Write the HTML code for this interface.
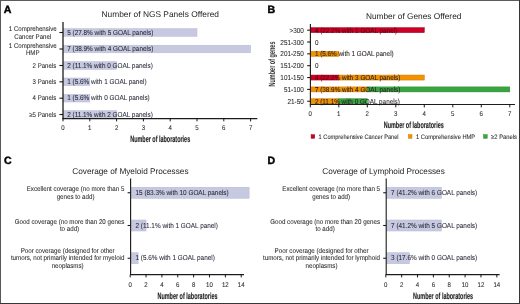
<!DOCTYPE html>
<html><head><meta charset="utf-8"><style>
html,body{margin:0;padding:0;background:#fff;}
body{width:520px;height:304px;overflow:hidden;}
svg{display:block;font-family:"Liberation Sans", sans-serif;text-rendering:geometricPrecision;}
</style></head><body>
<svg width="520" height="304" viewBox="0 0 520 304">
<defs><filter id="b" x="0" y="0" width="100%" height="100%"><feGaussianBlur stdDeviation="0.3"/></filter></defs>
<rect x="0" y="0" width="520" height="304" fill="#fff"/>
<g filter="url(#b)" >
<text x="3.7" y="12.6" font-size="10.6" font-weight="700" fill="#000" stroke="#000" stroke-width="0.45">A</text>
<text x="267.6" y="13.2" font-size="10.6" font-weight="700" fill="#000" stroke="#000" stroke-width="0.45">B</text>
<text x="3.9" y="163.75" font-size="10.6" font-weight="700" fill="#000" stroke="#000" stroke-width="0.45">C</text>
<text x="267.5" y="163.75" font-size="10.6" font-weight="700" fill="#000" stroke="#000" stroke-width="0.45">D</text>
<text x="101.5" y="17.1" font-size="8.3" textLength="117.5" lengthAdjust="spacingAndGlyphs" fill="#1e1e1e">Number of NGS Panels Offered</text>
<rect x="63.60" y="28.70" width="133.40" height="7.60" fill="#c6c9df" stroke="#b5b8d0" stroke-width="0.5"/>
<rect x="63.60" y="45.20" width="187.00" height="7.60" fill="#c6c9df" stroke="#b5b8d0" stroke-width="0.5"/>
<rect x="63.60" y="61.70" width="53.00" height="7.60" fill="#c6c9df" stroke="#b5b8d0" stroke-width="0.5"/>
<rect x="63.60" y="78.00" width="26.20" height="7.60" fill="#c6c9df" stroke="#b5b8d0" stroke-width="0.5"/>
<rect x="63.60" y="94.40" width="26.20" height="7.60" fill="#c6c9df" stroke="#b5b8d0" stroke-width="0.5"/>
<rect x="63.60" y="110.70" width="53.00" height="7.60" fill="#c6c9df" stroke="#b5b8d0" stroke-width="0.5"/>
<text transform="translate(67.2,34.5) scale(1,1.12)" font-size="6.4" fill="#2a2a3a" stroke="#2a2a3a" stroke-width="0.06">5 (27.8% with 5 GOAL panels)</text>
<text transform="translate(67.2,51.0) scale(1,1.12)" font-size="6.4" fill="#2a2a3a" stroke="#2a2a3a" stroke-width="0.06">7 (38.9% with 4 GOAL panels)</text>
<text transform="translate(67.2,67.5) scale(1,1.12)" font-size="6.4" fill="#2a2a3a" stroke="#2a2a3a" stroke-width="0.06">2 (11.1% with 0 GOAL panels)</text>
<text transform="translate(67.2,83.8) scale(1,1.12)" font-size="6.4" fill="#2a2a3a" stroke="#2a2a3a" stroke-width="0.06">1 (5.6% with 1 GOAL panel)</text>
<text transform="translate(67.2,100.2) scale(1,1.12)" font-size="6.4" fill="#2a2a3a" stroke="#2a2a3a" stroke-width="0.06">1 (5.6% with 0 GOAL panels)</text>
<text transform="translate(67.2,116.5) scale(1,1.12)" font-size="6.4" fill="#2a2a3a" stroke="#2a2a3a" stroke-width="0.06">2 (11.1% with 2 GOAL panels)</text>
<text transform="translate(32.7,31.0) scale(1,1.12)" font-size="6.1" text-anchor="middle" fill="#2b2b2b" stroke="#2b2b2b" stroke-width="0.06">1 Comprehensive</text>
<text transform="translate(32.7,38.6) scale(1,1.12)" font-size="6.1" text-anchor="middle" fill="#2b2b2b" stroke="#2b2b2b" stroke-width="0.06">Cancer Panel</text>
<line x1="59.40" y1="32.50" x2="63.00" y2="32.50" stroke="#1a1a1a" stroke-width="1.1"/>
<text transform="translate(32.7,47.5) scale(1,1.12)" font-size="6.1" text-anchor="middle" fill="#2b2b2b" stroke="#2b2b2b" stroke-width="0.06">1 Comprehensive</text>
<text transform="translate(32.7,55.1) scale(1,1.12)" font-size="6.1" text-anchor="middle" fill="#2b2b2b" stroke="#2b2b2b" stroke-width="0.06">HMP</text>
<line x1="59.40" y1="49.00" x2="63.00" y2="49.00" stroke="#1a1a1a" stroke-width="1.1"/>
<text transform="translate(56.3,67.7) scale(1,1.12)" font-size="6.1" text-anchor="end" fill="#2b2b2b" stroke="#2b2b2b" stroke-width="0.06">2 Panels</text>
<line x1="59.40" y1="65.50" x2="63.00" y2="65.50" stroke="#1a1a1a" stroke-width="1.1"/>
<text transform="translate(56.3,84.0) scale(1,1.12)" font-size="6.1" text-anchor="end" fill="#2b2b2b" stroke="#2b2b2b" stroke-width="0.06">3 Panels</text>
<line x1="59.40" y1="81.80" x2="63.00" y2="81.80" stroke="#1a1a1a" stroke-width="1.1"/>
<text transform="translate(56.3,100.4) scale(1,1.12)" font-size="6.1" text-anchor="end" fill="#2b2b2b" stroke="#2b2b2b" stroke-width="0.06">4 Panels</text>
<line x1="59.40" y1="98.20" x2="63.00" y2="98.20" stroke="#1a1a1a" stroke-width="1.1"/>
<text transform="translate(56.3,116.7) scale(1,1.12)" font-size="6.1" text-anchor="end" fill="#2b2b2b" stroke="#2b2b2b" stroke-width="0.06">≥5 Panels</text>
<line x1="59.40" y1="114.50" x2="63.00" y2="114.50" stroke="#1a1a1a" stroke-width="1.1"/>
<line x1="63.00" y1="22.00" x2="63.00" y2="119.20" stroke="#1a1a1a" stroke-width="1.3"/>
<line x1="62.40" y1="118.60" x2="257.30" y2="118.60" stroke="#1a1a1a" stroke-width="1.2"/>
<line x1="63.00" y1="118.60" x2="63.00" y2="121.40" stroke="#1a1a1a" stroke-width="1.0"/>
<text transform="translate(63.0,130.0) scale(1,1.12)" font-size="6.1" text-anchor="middle" fill="#2b2b2b" stroke="#2b2b2b" stroke-width="0.06">0</text>
<line x1="89.80" y1="118.60" x2="89.80" y2="121.40" stroke="#1a1a1a" stroke-width="1.0"/>
<text transform="translate(89.8,130.0) scale(1,1.12)" font-size="6.1" text-anchor="middle" fill="#2b2b2b" stroke="#2b2b2b" stroke-width="0.06">1</text>
<line x1="116.60" y1="118.60" x2="116.60" y2="121.40" stroke="#1a1a1a" stroke-width="1.0"/>
<text transform="translate(116.6,130.0) scale(1,1.12)" font-size="6.1" text-anchor="middle" fill="#2b2b2b" stroke="#2b2b2b" stroke-width="0.06">2</text>
<line x1="143.40" y1="118.60" x2="143.40" y2="121.40" stroke="#1a1a1a" stroke-width="1.0"/>
<text transform="translate(143.4,130.0) scale(1,1.12)" font-size="6.1" text-anchor="middle" fill="#2b2b2b" stroke="#2b2b2b" stroke-width="0.06">3</text>
<line x1="170.20" y1="118.60" x2="170.20" y2="121.40" stroke="#1a1a1a" stroke-width="1.0"/>
<text transform="translate(170.2,130.0) scale(1,1.12)" font-size="6.1" text-anchor="middle" fill="#2b2b2b" stroke="#2b2b2b" stroke-width="0.06">4</text>
<line x1="197.00" y1="118.60" x2="197.00" y2="121.40" stroke="#1a1a1a" stroke-width="1.0"/>
<text transform="translate(197.0,130.0) scale(1,1.12)" font-size="6.1" text-anchor="middle" fill="#2b2b2b" stroke="#2b2b2b" stroke-width="0.06">5</text>
<line x1="223.80" y1="118.60" x2="223.80" y2="121.40" stroke="#1a1a1a" stroke-width="1.0"/>
<text transform="translate(223.8,130.0) scale(1,1.12)" font-size="6.1" text-anchor="middle" fill="#2b2b2b" stroke="#2b2b2b" stroke-width="0.06">6</text>
<line x1="250.60" y1="118.60" x2="250.60" y2="121.40" stroke="#1a1a1a" stroke-width="1.0"/>
<text transform="translate(250.6,130.0) scale(1,1.12)" font-size="6.1" text-anchor="middle" fill="#2b2b2b" stroke="#2b2b2b" stroke-width="0.06">7</text>
<text x="130.2" y="141.9" font-size="9.0" font-weight="700" textLength="60" lengthAdjust="spacingAndGlyphs" fill="#1e1e1e" stroke="#1e1e1e" stroke-width="0.15">Number of laboratories</text>
<text x="365.9" y="18.8" font-size="8.3" textLength="95.5" lengthAdjust="spacingAndGlyphs" fill="#1e1e1e">Number of Genes Offered</text>
<rect x="310.90" y="27.65" width="113.40" height="5.00" fill="#cc0026" stroke="#9c001c" stroke-width="0.5"/>
<rect x="310.90" y="51.35" width="27.90" height="5.00" fill="#f39200" stroke="#cc7a00" stroke-width="0.5"/>
<rect x="310.90" y="75.05" width="27.90" height="5.00" fill="#cc0026" stroke="#9c001c" stroke-width="0.5"/>
<rect x="338.80" y="75.05" width="85.50" height="5.00" fill="#f39200" stroke="#cc7a00" stroke-width="0.5"/>
<rect x="310.90" y="86.90" width="56.40" height="5.00" fill="#f39200" stroke="#cc7a00" stroke-width="0.5"/>
<rect x="367.30" y="86.90" width="142.50" height="5.00" fill="#38a540" stroke="#25882c" stroke-width="0.5"/>
<rect x="310.90" y="98.75" width="27.90" height="5.00" fill="#f39200" stroke="#cc7a00" stroke-width="0.5"/>
<rect x="338.80" y="98.75" width="28.50" height="5.00" fill="#38a540" stroke="#25882c" stroke-width="0.5"/>
<clipPath id="cr0"><rect x="300" y="24.15" width="124.30" height="12"/></clipPath>
<clipPath id="cn0"><rect x="424.30" y="24.15" width="95.70" height="12"/></clipPath>
<g clip-path="url(#cr0)">
<text transform="translate(314.9,32.75) scale(1,1.12)" font-size="6.35" fill="#5c0012" stroke="#5c0012" stroke-width="0.06">4 (22.2% with 1 GOAL panel)</text>
</g>
<g clip-path="url(#cn0)">
<text transform="translate(314.9,32.75) scale(1,1.12)" font-size="6.35" fill="#2a2222" stroke="#2a2222" stroke-width="0.06">4 (22.2% with 1 GOAL panel)</text>
</g>
<text transform="translate(314.9,44.6) scale(1,1.12)" font-size="6.35" fill="#2a2222" stroke="#2a2222" stroke-width="0.06">0</text>
<text transform="translate(314.9,56.449999999999996) scale(1,1.12)" font-size="6.35" fill="#2a2222" stroke="#2a2222" stroke-width="0.06">1 (5.6% with 1 GOAL panel)</text>
<text transform="translate(314.9,68.29999999999998) scale(1,1.12)" font-size="6.35" fill="#2a2222" stroke="#2a2222" stroke-width="0.06">0</text>
<clipPath id="cr4"><rect x="300" y="71.55" width="38.80" height="12"/></clipPath>
<clipPath id="cn4"><rect x="338.80" y="71.55" width="181.20" height="12"/></clipPath>
<g clip-path="url(#cr4)">
<text transform="translate(314.9,80.14999999999999) scale(1,1.12)" font-size="6.35" fill="#5c0012" stroke="#5c0012" stroke-width="0.06">4 (22.2% with 3 GOAL panels)</text>
</g>
<g clip-path="url(#cn4)">
<text transform="translate(314.9,80.14999999999999) scale(1,1.12)" font-size="6.35" fill="#2a2222" stroke="#2a2222" stroke-width="0.06">4 (22.2% with 3 GOAL panels)</text>
</g>
<text transform="translate(314.9,92.0) scale(1,1.12)" font-size="6.35" fill="#2a2222" stroke="#2a2222" stroke-width="0.06">7 (38.9% with 4 GOAL panels)</text>
<text transform="translate(314.9,103.85) scale(1,1.12)" font-size="6.35" fill="#2a2222" stroke="#2a2222" stroke-width="0.06">2 (11.1% with 0 GOAL panels)</text>
<text transform="translate(303.8,32.75) scale(1,1.12)" font-size="6.4" text-anchor="end" fill="#2b2b2b" stroke="#2b2b2b" stroke-width="0.06">&gt;300</text>
<line x1="307.20" y1="30.15" x2="310.40" y2="30.15" stroke="#1a1a1a" stroke-width="1.1"/>
<text transform="translate(303.8,44.6) scale(1,1.12)" font-size="6.4" text-anchor="end" fill="#2b2b2b" stroke="#2b2b2b" stroke-width="0.06">251-300</text>
<line x1="307.20" y1="42.00" x2="310.40" y2="42.00" stroke="#1a1a1a" stroke-width="1.1"/>
<text transform="translate(303.8,56.449999999999996) scale(1,1.12)" font-size="6.4" text-anchor="end" fill="#2b2b2b" stroke="#2b2b2b" stroke-width="0.06">201-250</text>
<line x1="307.20" y1="53.85" x2="310.40" y2="53.85" stroke="#1a1a1a" stroke-width="1.1"/>
<text transform="translate(303.8,68.29999999999998) scale(1,1.12)" font-size="6.4" text-anchor="end" fill="#2b2b2b" stroke="#2b2b2b" stroke-width="0.06">151-200</text>
<line x1="307.20" y1="65.70" x2="310.40" y2="65.70" stroke="#1a1a1a" stroke-width="1.1"/>
<text transform="translate(303.8,80.14999999999999) scale(1,1.12)" font-size="6.4" text-anchor="end" fill="#2b2b2b" stroke="#2b2b2b" stroke-width="0.06">101-150</text>
<line x1="307.20" y1="77.55" x2="310.40" y2="77.55" stroke="#1a1a1a" stroke-width="1.1"/>
<text transform="translate(303.8,92.0) scale(1,1.12)" font-size="6.4" text-anchor="end" fill="#2b2b2b" stroke="#2b2b2b" stroke-width="0.06">51-100</text>
<line x1="307.20" y1="89.40" x2="310.40" y2="89.40" stroke="#1a1a1a" stroke-width="1.1"/>
<text transform="translate(303.8,103.85) scale(1,1.12)" font-size="6.4" text-anchor="end" fill="#2b2b2b" stroke="#2b2b2b" stroke-width="0.06">21-50</text>
<line x1="307.20" y1="101.25" x2="310.40" y2="101.25" stroke="#1a1a1a" stroke-width="1.1"/>
<line x1="310.40" y1="24.00" x2="310.40" y2="105.00" stroke="#1a1a1a" stroke-width="1.1"/>
<line x1="309.90" y1="104.50" x2="515.00" y2="104.50" stroke="#1a1a1a" stroke-width="1.1"/>
<line x1="310.30" y1="104.50" x2="310.30" y2="107.40" stroke="#1a1a1a" stroke-width="1.0"/>
<text transform="translate(310.3,116.2) scale(1,1.12)" font-size="6.1" text-anchor="middle" fill="#2b2b2b" stroke="#2b2b2b" stroke-width="0.06">0</text>
<line x1="338.80" y1="104.50" x2="338.80" y2="107.40" stroke="#1a1a1a" stroke-width="1.0"/>
<text transform="translate(338.8,116.2) scale(1,1.12)" font-size="6.1" text-anchor="middle" fill="#2b2b2b" stroke="#2b2b2b" stroke-width="0.06">1</text>
<line x1="367.30" y1="104.50" x2="367.30" y2="107.40" stroke="#1a1a1a" stroke-width="1.0"/>
<text transform="translate(367.3,116.2) scale(1,1.12)" font-size="6.1" text-anchor="middle" fill="#2b2b2b" stroke="#2b2b2b" stroke-width="0.06">2</text>
<line x1="395.80" y1="104.50" x2="395.80" y2="107.40" stroke="#1a1a1a" stroke-width="1.0"/>
<text transform="translate(395.8,116.2) scale(1,1.12)" font-size="6.1" text-anchor="middle" fill="#2b2b2b" stroke="#2b2b2b" stroke-width="0.06">3</text>
<line x1="424.30" y1="104.50" x2="424.30" y2="107.40" stroke="#1a1a1a" stroke-width="1.0"/>
<text transform="translate(424.3,116.2) scale(1,1.12)" font-size="6.1" text-anchor="middle" fill="#2b2b2b" stroke="#2b2b2b" stroke-width="0.06">4</text>
<line x1="452.80" y1="104.50" x2="452.80" y2="107.40" stroke="#1a1a1a" stroke-width="1.0"/>
<text transform="translate(452.8,116.2) scale(1,1.12)" font-size="6.1" text-anchor="middle" fill="#2b2b2b" stroke="#2b2b2b" stroke-width="0.06">5</text>
<line x1="481.30" y1="104.50" x2="481.30" y2="107.40" stroke="#1a1a1a" stroke-width="1.0"/>
<text transform="translate(481.3,116.2) scale(1,1.12)" font-size="6.1" text-anchor="middle" fill="#2b2b2b" stroke="#2b2b2b" stroke-width="0.06">6</text>
<line x1="509.80" y1="104.50" x2="509.80" y2="107.40" stroke="#1a1a1a" stroke-width="1.0"/>
<text transform="translate(509.8,116.2) scale(1,1.12)" font-size="6.1" text-anchor="middle" fill="#2b2b2b" stroke="#2b2b2b" stroke-width="0.06">7</text>
<text x="383.75" y="127.9" font-size="9.0" font-weight="700" textLength="60" lengthAdjust="spacingAndGlyphs" fill="#1e1e1e" stroke="#1e1e1e" stroke-width="0.15">Number of laboratories</text>
<text transform="translate(274.5,64.0) rotate(-90)" font-size="9" font-weight="700" text-anchor="middle" textLength="45" lengthAdjust="spacingAndGlyphs" fill="#333">Number of genes</text>
<rect x="311.10" y="134.70" width="3.60" height="3.60" fill="#cc0026" stroke="#9c001c" stroke-width="0.5"/>
<text transform="translate(318.6,138.6) scale(1,1.12)" font-size="5.7" textLength="80" lengthAdjust="spacingAndGlyphs" fill="#2b2b2b" stroke="#2b2b2b" stroke-width="0.06">1 Comprehensive Cancer Panel</text>
<rect x="408.40" y="134.70" width="3.60" height="3.60" fill="#f39200" stroke="#cc7a00" stroke-width="0.5"/>
<text transform="translate(416.1,138.6) scale(1,1.12)" font-size="5.7" textLength="59" lengthAdjust="spacingAndGlyphs" fill="#2b2b2b" stroke="#2b2b2b" stroke-width="0.06">1 Comprehensive HMP</text>
<rect x="483.60" y="134.70" width="3.60" height="3.60" fill="#38a540" stroke="#25882c" stroke-width="0.5"/>
<text transform="translate(491.1,138.6) scale(1,1.12)" font-size="5.7" textLength="25.8" lengthAdjust="spacingAndGlyphs" fill="#2b2b2b" stroke="#2b2b2b" stroke-width="0.06">≥2 Panels</text>
<text x="72.25" y="173.75" font-size="8.3" textLength="116.25" lengthAdjust="spacingAndGlyphs" fill="#1e1e1e">Coverage of Myeloid Processes</text>
<rect x="131.10" y="187.25" width="118.05" height="11.00" fill="#c6c9df" stroke="#b5b8d0" stroke-width="0.5"/>
<rect x="131.10" y="220.00" width="14.96" height="11.00" fill="#c6c9df" stroke="#b5b8d0" stroke-width="0.5"/>
<rect x="131.10" y="252.75" width="7.03" height="11.00" fill="#c6c9df" stroke="#b5b8d0" stroke-width="0.5"/>
<text transform="translate(135.5,194.95) scale(1,1.12)" font-size="6.4" fill="#2a2a3a" stroke="#2a2a3a" stroke-width="0.06">15 (83.3% with 10 GOAL panels)</text>
<text transform="translate(135.5,227.7) scale(1,1.12)" font-size="6.4" fill="#2a2a3a" stroke="#2a2a3a" stroke-width="0.06">2 (11.1% with 1 GOAL panel)</text>
<text transform="translate(135.5,260.45) scale(1,1.12)" font-size="6.4" fill="#2a2a3a" stroke="#2a2a3a" stroke-width="0.06">1 (5.6% with 1 GOAL panel)</text>
<text transform="translate(75.56,191.35) scale(1,1.12)" font-size="6.2" text-anchor="middle" fill="#2b2b2b" stroke="#2b2b2b" stroke-width="0.06">Excellent coverage (no more than 5</text>
<text transform="translate(75.56,198.55) scale(1,1.12)" font-size="6.2" text-anchor="middle" fill="#2b2b2b" stroke="#2b2b2b" stroke-width="0.06">genes to add)</text>
<line x1="127.60" y1="192.75" x2="130.60" y2="192.75" stroke="#1a1a1a" stroke-width="1.1"/>
<text transform="translate(69.52,224.1) scale(1,1.12)" font-size="6.2" text-anchor="middle" fill="#2b2b2b" stroke="#2b2b2b" stroke-width="0.06">Good coverage (no more than 20 genes</text>
<text transform="translate(69.52,231.3) scale(1,1.12)" font-size="6.2" text-anchor="middle" fill="#2b2b2b" stroke="#2b2b2b" stroke-width="0.06">to add)</text>
<line x1="127.60" y1="225.50" x2="130.60" y2="225.50" stroke="#1a1a1a" stroke-width="1.1"/>
<text transform="translate(67.64,253.25) scale(1,1.12)" font-size="6.2" text-anchor="middle" fill="#2b2b2b" stroke="#2b2b2b" stroke-width="0.06">Poor coverage (designed for other</text>
<text transform="translate(67.64,260.45) scale(1,1.12)" font-size="6.2" text-anchor="middle" fill="#2b2b2b" stroke="#2b2b2b" stroke-width="0.06">tumors, not primarily intended for myeloid</text>
<text transform="translate(67.64,267.65) scale(1,1.12)" font-size="6.2" text-anchor="middle" fill="#2b2b2b" stroke="#2b2b2b" stroke-width="0.06">neoplasms)</text>
<line x1="127.60" y1="258.25" x2="130.60" y2="258.25" stroke="#1a1a1a" stroke-width="1.1"/>
<line x1="130.60" y1="178.50" x2="130.60" y2="275.10" stroke="#1a1a1a" stroke-width="1.1"/>
<line x1="130.10" y1="274.60" x2="244.00" y2="274.60" stroke="#1a1a1a" stroke-width="1.1"/>
<line x1="130.20" y1="274.60" x2="130.20" y2="277.40" stroke="#1a1a1a" stroke-width="1.0"/>
<text transform="translate(130.2,286.5) scale(1,1.12)" font-size="6.1" text-anchor="middle" fill="#2b2b2b" stroke="#2b2b2b" stroke-width="0.06">0</text>
<line x1="146.06" y1="274.60" x2="146.06" y2="277.40" stroke="#1a1a1a" stroke-width="1.0"/>
<text transform="translate(146.06,286.5) scale(1,1.12)" font-size="6.1" text-anchor="middle" fill="#2b2b2b" stroke="#2b2b2b" stroke-width="0.06">2</text>
<line x1="161.92" y1="274.60" x2="161.92" y2="277.40" stroke="#1a1a1a" stroke-width="1.0"/>
<text transform="translate(161.92,286.5) scale(1,1.12)" font-size="6.1" text-anchor="middle" fill="#2b2b2b" stroke="#2b2b2b" stroke-width="0.06">4</text>
<line x1="177.78" y1="274.60" x2="177.78" y2="277.40" stroke="#1a1a1a" stroke-width="1.0"/>
<text transform="translate(177.77999999999997,286.5) scale(1,1.12)" font-size="6.1" text-anchor="middle" fill="#2b2b2b" stroke="#2b2b2b" stroke-width="0.06">6</text>
<line x1="193.64" y1="274.60" x2="193.64" y2="277.40" stroke="#1a1a1a" stroke-width="1.0"/>
<text transform="translate(193.64,286.5) scale(1,1.12)" font-size="6.1" text-anchor="middle" fill="#2b2b2b" stroke="#2b2b2b" stroke-width="0.06">8</text>
<line x1="209.50" y1="274.60" x2="209.50" y2="277.40" stroke="#1a1a1a" stroke-width="1.0"/>
<text transform="translate(209.5,286.5) scale(1,1.12)" font-size="6.1" text-anchor="middle" fill="#2b2b2b" stroke="#2b2b2b" stroke-width="0.06">10</text>
<line x1="225.36" y1="274.60" x2="225.36" y2="277.40" stroke="#1a1a1a" stroke-width="1.0"/>
<text transform="translate(225.35999999999999,286.5) scale(1,1.12)" font-size="6.1" text-anchor="middle" fill="#2b2b2b" stroke="#2b2b2b" stroke-width="0.06">12</text>
<line x1="241.22" y1="274.60" x2="241.22" y2="277.40" stroke="#1a1a1a" stroke-width="1.0"/>
<text transform="translate(241.21999999999997,286.5) scale(1,1.12)" font-size="6.1" text-anchor="middle" fill="#2b2b2b" stroke="#2b2b2b" stroke-width="0.06">14</text>
<text x="157.5" y="298.7" font-size="9.0" font-weight="700" textLength="60" lengthAdjust="spacingAndGlyphs" fill="#1e1e1e" stroke="#1e1e1e" stroke-width="0.15">Number of laboratories</text>
<text x="322.25" y="173.75" font-size="8.3" textLength="122.5" lengthAdjust="spacingAndGlyphs" fill="#1e1e1e">Coverage of Lymphoid Processes</text>
<rect x="386.70" y="187.25" width="54.61" height="11.00" fill="#c6c9df" stroke="#b5b8d0" stroke-width="0.5"/>
<rect x="386.70" y="220.00" width="54.61" height="11.00" fill="#c6c9df" stroke="#b5b8d0" stroke-width="0.5"/>
<rect x="386.70" y="252.75" width="22.89" height="11.00" fill="#c6c9df" stroke="#b5b8d0" stroke-width="0.5"/>
<text transform="translate(391.1,194.95) scale(1,1.12)" font-size="6.4" fill="#2a2a3a" stroke="#2a2a3a" stroke-width="0.06">7 (41.2% with 6 GOAL panels)</text>
<text transform="translate(391.1,227.7) scale(1,1.12)" font-size="6.4" fill="#2a2a3a" stroke="#2a2a3a" stroke-width="0.06">7 (41.2% with 5 GOAL panels)</text>
<text transform="translate(391.1,260.45) scale(1,1.12)" font-size="6.4" fill="#2a2a3a" stroke="#2a2a3a" stroke-width="0.06">3 (17.6% with 0 GOAL panels)</text>
<text transform="translate(331.16,191.35) scale(1,1.12)" font-size="6.2" text-anchor="middle" fill="#2b2b2b" stroke="#2b2b2b" stroke-width="0.06">Excellent coverage (no more than 5</text>
<text transform="translate(331.16,198.55) scale(1,1.12)" font-size="6.2" text-anchor="middle" fill="#2b2b2b" stroke="#2b2b2b" stroke-width="0.06">genes to add)</text>
<line x1="383.20" y1="192.75" x2="386.20" y2="192.75" stroke="#1a1a1a" stroke-width="1.1"/>
<text transform="translate(325.12,224.1) scale(1,1.12)" font-size="6.2" text-anchor="middle" fill="#2b2b2b" stroke="#2b2b2b" stroke-width="0.06">Good coverage (no more than 20 genes</text>
<text transform="translate(325.12,231.3) scale(1,1.12)" font-size="6.2" text-anchor="middle" fill="#2b2b2b" stroke="#2b2b2b" stroke-width="0.06">to add)</text>
<line x1="383.20" y1="225.50" x2="386.20" y2="225.50" stroke="#1a1a1a" stroke-width="1.1"/>
<text transform="translate(321.52,253.25) scale(1,1.12)" font-size="6.2" text-anchor="middle" fill="#2b2b2b" stroke="#2b2b2b" stroke-width="0.06">Poor coverage (designed for other</text>
<text transform="translate(321.52,260.45) scale(1,1.12)" font-size="6.2" text-anchor="middle" fill="#2b2b2b" stroke="#2b2b2b" stroke-width="0.06">tumors, not primarily intended for lymphoid</text>
<text transform="translate(321.52,267.65) scale(1,1.12)" font-size="6.2" text-anchor="middle" fill="#2b2b2b" stroke="#2b2b2b" stroke-width="0.06">neoplasms)</text>
<line x1="383.20" y1="258.25" x2="386.20" y2="258.25" stroke="#1a1a1a" stroke-width="1.1"/>
<line x1="386.20" y1="178.50" x2="386.20" y2="275.10" stroke="#1a1a1a" stroke-width="1.1"/>
<line x1="385.70" y1="274.60" x2="499.60" y2="274.60" stroke="#1a1a1a" stroke-width="1.1"/>
<line x1="385.80" y1="274.60" x2="385.80" y2="277.40" stroke="#1a1a1a" stroke-width="1.0"/>
<text transform="translate(385.79999999999995,286.5) scale(1,1.12)" font-size="6.1" text-anchor="middle" fill="#2b2b2b" stroke="#2b2b2b" stroke-width="0.06">0</text>
<line x1="401.66" y1="274.60" x2="401.66" y2="277.40" stroke="#1a1a1a" stroke-width="1.0"/>
<text transform="translate(401.65999999999997,286.5) scale(1,1.12)" font-size="6.1" text-anchor="middle" fill="#2b2b2b" stroke="#2b2b2b" stroke-width="0.06">2</text>
<line x1="417.52" y1="274.60" x2="417.52" y2="277.40" stroke="#1a1a1a" stroke-width="1.0"/>
<text transform="translate(417.52,286.5) scale(1,1.12)" font-size="6.1" text-anchor="middle" fill="#2b2b2b" stroke="#2b2b2b" stroke-width="0.06">4</text>
<line x1="433.38" y1="274.60" x2="433.38" y2="277.40" stroke="#1a1a1a" stroke-width="1.0"/>
<text transform="translate(433.37999999999994,286.5) scale(1,1.12)" font-size="6.1" text-anchor="middle" fill="#2b2b2b" stroke="#2b2b2b" stroke-width="0.06">6</text>
<line x1="449.24" y1="274.60" x2="449.24" y2="277.40" stroke="#1a1a1a" stroke-width="1.0"/>
<text transform="translate(449.23999999999995,286.5) scale(1,1.12)" font-size="6.1" text-anchor="middle" fill="#2b2b2b" stroke="#2b2b2b" stroke-width="0.06">8</text>
<line x1="465.10" y1="274.60" x2="465.10" y2="277.40" stroke="#1a1a1a" stroke-width="1.0"/>
<text transform="translate(465.09999999999997,286.5) scale(1,1.12)" font-size="6.1" text-anchor="middle" fill="#2b2b2b" stroke="#2b2b2b" stroke-width="0.06">10</text>
<line x1="480.96" y1="274.60" x2="480.96" y2="277.40" stroke="#1a1a1a" stroke-width="1.0"/>
<text transform="translate(480.9599999999999,286.5) scale(1,1.12)" font-size="6.1" text-anchor="middle" fill="#2b2b2b" stroke="#2b2b2b" stroke-width="0.06">12</text>
<line x1="496.82" y1="274.60" x2="496.82" y2="277.40" stroke="#1a1a1a" stroke-width="1.0"/>
<text transform="translate(496.81999999999994,286.5) scale(1,1.12)" font-size="6.1" text-anchor="middle" fill="#2b2b2b" stroke="#2b2b2b" stroke-width="0.06">14</text>
<text x="413.1" y="298.7" font-size="9.0" font-weight="700" textLength="60" lengthAdjust="spacingAndGlyphs" fill="#1e1e1e" stroke="#1e1e1e" stroke-width="0.15">Number of laboratories</text>
</g>
<rect x="0" y="0" width="520" height="1" fill="#5c5c5c"/>
<rect x="0" y="0" width="1" height="304" fill="#585858"/>
<rect x="519" y="0" width="1" height="304" fill="#353535"/>
<rect x="0" y="303" width="520" height="1" fill="#383838"/>
</svg>
</body></html>
